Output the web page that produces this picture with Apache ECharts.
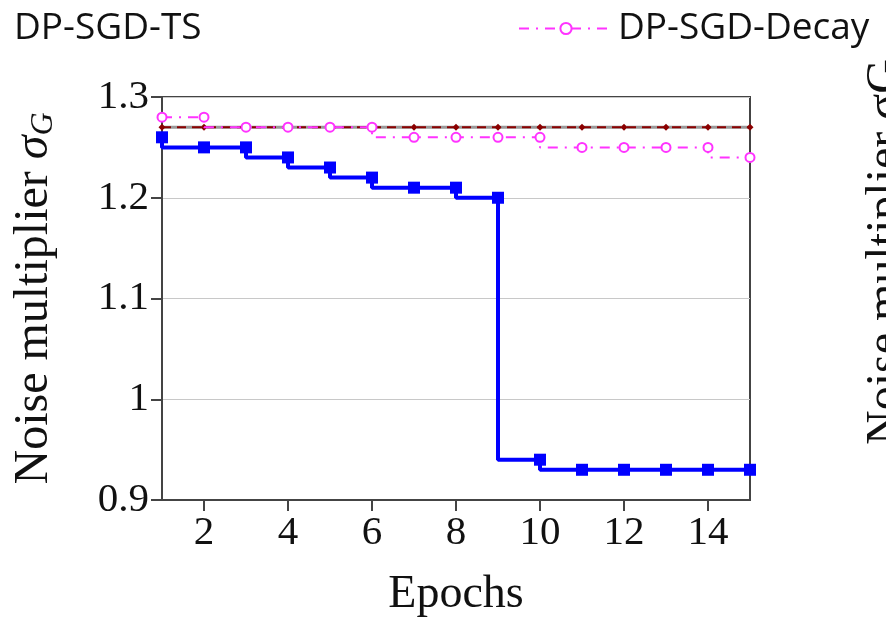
<!DOCTYPE html>
<html><head><meta charset="utf-8">
<script src="https://cdn.jsdelivr.net/npm/echarts@6/dist/echarts.min.js"></script>
<style>html,body{margin:0;padding:0;background:#fff}#c{width:886px;height:620px}</style>
</head><body><div id="c"></div>
<script>
var epochs = [1,2,3,4,5,6,7,8,9,10,11,12,13,14,15];
var tsValues = [1.27,1.27,1.27,1.27,1.27,1.27,1.27,1.27,1.27,1.27,1.27,1.27,1.27,1.27,1.27];
var baseValues = [1.27,1.27,1.27,1.27,1.27,1.27,1.27,1.27,1.27,1.27,1.27,1.27,1.27,1.27,1.27];
var decayValues = [1.28,1.28,1.27,1.27,1.27,1.27,1.26,1.26,1.26,1.26,1.25,1.25,1.25,1.25,1.24];
var oursValues = [1.26,1.25,1.25,1.24,1.23,1.22,1.21,1.21,1.20,0.94,0.93,0.93,0.93,0.93,0.93];
var xTicks = [2,4,6,8,10,12,14];
var yTicks = [0.9,1.0,1.1,1.2,1.3];

function pairs(v){ return epochs.map(function(e,i){ return [e, v[i]]; }); }
var serif = '"Liberation Serif", "DejaVu Serif", serif';
var sans = '"Open Sans", "Noto Sans", sans-serif';

var chart = echarts.init(document.getElementById('c'), null, {renderer:'canvas'});
chart.setOption({
  animation: false,
  backgroundColor: '#fff',
  grid: {left:162, right:136, top:97, bottom:120, outerBoundsMode:'none', containLabel:false,
         show:true, borderColor:'#444', borderWidth:2, backgroundColor:'transparent'},
  legend: [
    {data:['DP-SGD-TS'], left:-57, top:5, itemWidth:60, itemHeight:14, itemGap:5,
     itemStyle:{opacity:0}, lineStyle:{opacity:0},
     textStyle:{fontFamily:sans, fontSize:37, color:'#111'}},
    {data:['DP-SGD-Decay'], left:513, top:5, itemWidth:94, itemHeight:14,
     textStyle:{fontFamily:sans, fontSize:37, color:'#111'}}
  ],
  xAxis: {
    type:'value', min:1, max:15,
    name:'Epochs', nameLocation:'middle', nameGap:72,
    nameTextStyle:{fontFamily:serif, fontSize:46, color:'#111'},
    axisLine:{show:true, onZero:false, lineStyle:{color:'#444', width:2}},
    axisTick:{show:true, length:11, customValues:xTicks, lineStyle:{color:'#444', width:2}},
    axisLabel:{customValues:xTicks, fontFamily:serif, fontSize:41, color:'#111', margin:13},
    splitLine:{show:false}
  },
  yAxis: {
    type:'value', min:0.9, max:1.3, interval:0.1,
    name:'{n|Noise multiplier }{s|σ}{g|G}', nameLocation:'middle', nameGap:102, nameRotate:90,
    nameTextStyle:{rich:{
      n:{fontFamily:serif, fontSize:48, color:'#111'},
      s:{fontFamily:serif, fontSize:48, fontStyle:'italic', color:'#111'},
      g:{fontFamily:serif, fontSize:32, fontStyle:'italic', color:'#111', verticalAlign:'bottom', padding:[20,0,0,0]}
    }},
    axisLine:{show:true, lineStyle:{color:'#444', width:2}},
    axisTick:{show:true, length:11, lineStyle:{color:'#444', width:2}},
    axisLabel:{fontFamily:serif, fontSize:41, color:'#111', margin:13,
      formatter:function(v){ return String(Math.round(v*10)/10); }},
    splitLine:{show:true, lineStyle:{color:'#c8c8c8', width:1}}
  },
  graphic: [{
    type:'text', x:910, y:445, rotation:Math.PI/2,
    style:{text:'Noise multiplier σG', font:'48px "Liberation Serif", serif', fill:'#111', textAlign:'left', textVerticalAlign:'bottom'}
  }],
  series: [
    {name:'DP-SGD', type:'line', data:pairs(baseValues), symbol:'none',
     lineStyle:{color:'#999', width:3}, z:2},
    {name:'DP-SGD-TS', type:'line', data:pairs(tsValues), symbol:'diamond', symbolSize:7,
     itemStyle:{color:'#8b0000'}, lineStyle:{color:'#8b0000', width:2, type:[9,6]}, z:3},
    {name:'DP-SGD-Decay', type:'line', step:'start', data:pairs(decayValues), symbol:'emptyCircle', symbolSize:9,
     itemStyle:{color:'#ff33ff', borderColor:'#ff33ff', borderWidth:2},
     lineStyle:{color:'#ff33ff', width:2, type:[10,7,2,7]}, z:4},
    {name:'Ours', type:'line', step:'start', data:pairs(oursValues), symbol:'rect', symbolSize:12,
     itemStyle:{color:'#0000ff'}, lineStyle:{color:'#0000ff', width:4}, z:5}
  ]
});
</script></body></html>
